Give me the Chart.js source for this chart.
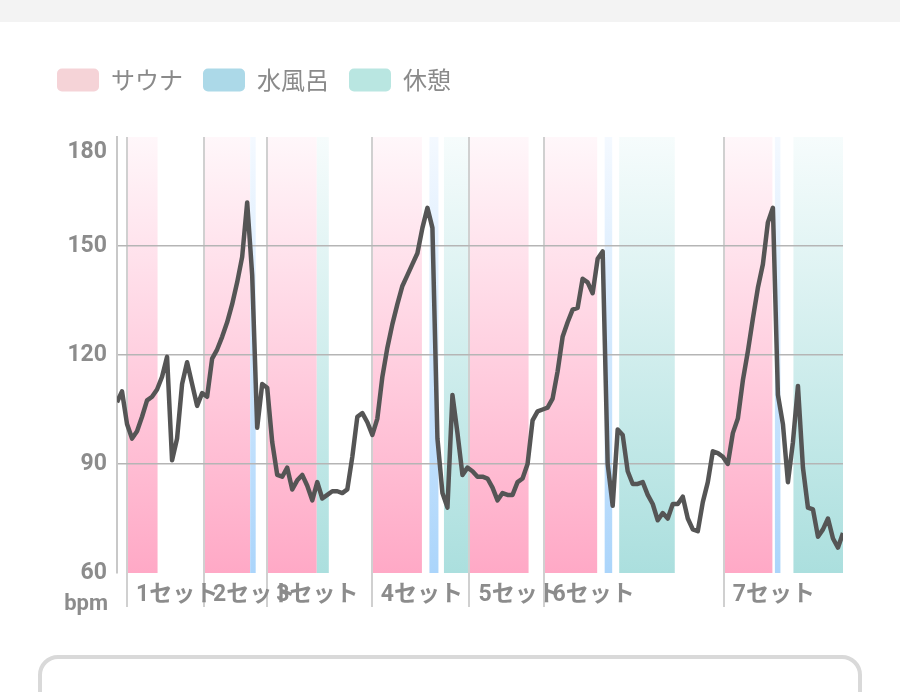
<!DOCTYPE html>
<html lang="ja">
<head>
    <meta charset="UTF-8">
    <title>心拍数</title>
    <script src="https://cdn.jsdelivr.net/npm/chart.js"></script>
    <style>
        body {
            margin: 0;
            background: #fff;
            width: 900px;
            height: 692px;
            overflow: hidden;
            position: relative;
            font-family: Roboto, "Noto Sans CJK JP", sans-serif;
        }

        .topbar {
            position: absolute;
            top: 0;
            left: 0;
            width: 900px;
            height: 22px;
            background: #f3f3f3;
        }

        .chart-box {
            position: absolute;
            top: 22px;
            left: 0;
            width: 900px;
            height: 600px;
        }

        .card {
            position: absolute;
            top: 655px;
            left: 38px;
            width: 816px;
            height: 100px;
            border: 4px solid #d9d9d9;
            border-radius: 20px;
        }
    </style>
</head>
<body>
    <div class="topbar"></div>
    <div class="chart-box"><canvas id="hrChart"></canvas></div>
    <div class="card"></div>

    <script>
        // heart rate, one reading per minute
        const heartRate = [
            107, 110, 101, 97, 99, 103, 107.5, 108.5, 110.5, 114,
            119.5, 91, 97, 112, 118, 112, 106, 109.5, 108.5, 119,
            121.5, 125, 129, 134, 140, 147, 162, 142, 100, 112,
            111, 96, 87, 86.5, 89, 83, 85.5, 87, 84, 80,
            85, 80.5, 81.5, 82.5, 82.5, 82, 83, 92, 103, 104,
            101.5, 98, 102.5, 114, 122, 128.5, 134, 139, 142, 145,
            148, 155, 160.5, 155, 97, 82, 78, 109, 98.5, 87,
            89, 88, 86.5, 86.5, 86, 83.5, 80, 82, 81.5, 81.5,
            85, 86, 90, 102, 104.5, 105, 105.5, 108, 115.5, 125,
            129, 132.5, 133, 141, 140, 137, 146.5, 148.5, 90, 78.5,
            99.5, 98, 88, 84.5, 84.5, 85, 81.5, 79, 74.5, 76.5,
            75, 79, 79, 81, 75, 72, 71.5, 79.5, 85, 93.5,
            93, 92, 90, 98.5, 102.5, 113, 121, 130, 138.5, 145,
            156.5, 160.5, 109, 101, 85, 96, 111.5, 89, 78, 77.5,
            70, 72, 75, 69.5, 67, 71
        ];

        const setLabels = ['1セット', '2セット', '3セット', '4セット', '5セット', '6セット', '7セット'];
        const setStarts = [2, 17.4, 30, 50.9, 70.4, 85.2, 121.2];

        // [start, end] in minutes
        const saunaPeriods = [[2.2, 8.1], [17.5, 26.6], [30.1, 39.9], [51.1, 60.9], [70.4, 82.2], [85.4, 95.9], [121.4, 130.9]];
        const waterPeriods = [[26.6, 27.7], [62.4, 64.2], [97.4, 98.9], [131.4, 132.5]];
        const restPeriods = [[39.9, 42.3], [65.3, 70.1], [100.3, 111.4], [135.1, 145]];

        const legendNames = ['サウナ', '水風呂', '休憩'];
        const legendColors = ['#f5d3d7', '#acd9e8', '#b9e6e1'];
        const yUnit = 'bpm';

        const labelGrey = '#8c8c8c';

        // colored phase bands behind the line
        const phaseBands = {
            id: 'phaseBands',
            beforeDraw(chart) {
                const { ctx, chartArea: a, scales: { x, y } } = chart;
                const groups = [
                    [saunaPeriods, '#fff7fa', '#ffa9c6'],
                    [waterPeriods, '#f4f9ff', '#abd5fb'],
                    [restPeriods, '#f6fcfc', '#abdfde'],
                ];
                ctx.save();
                groups.forEach(([periods, top, bottom]) => {
                    const g = ctx.createLinearGradient(0, a.top, 0, a.bottom);
                    g.addColorStop(0, top);
                    g.addColorStop(1, bottom);
                    ctx.fillStyle = g;
                    periods.forEach(([s, e]) => {
                        const x0 = x.getPixelForValue(s);
                        const x1 = x.getPixelForValue(e);
                        ctx.fillRect(x0, a.top, x1 - x0, a.bottom - a.top);
                    });
                });
                ctx.restore();

                // keep the top y label inside the plot, like the app does
                const items = y.getLabelItems();
                const topItem = items.find(it => it.label === String(y.max));
                if (topItem && !topItem._shifted) {
                    topItem.options.translation[1] += 15;
                    topItem._shifted = true;
                }
            }
        };

        // unit under the y axis labels
        const unitLabel = {
            id: 'unitLabel',
            afterDraw(chart) {
                const { ctx, chartArea: a, scales: { y } } = chart;
                ctx.save();
                ctx.font = 'bold 22px Roboto, sans-serif';
                ctx.fillStyle = labelGrey;
                ctx.textAlign = 'right';
                ctx.textBaseline = 'middle';
                ctx.fillText(yUnit, y.right - 9, a.bottom + 31);
                ctx.restore();
            }
        };

        // extra space between legend and plot
        const legendGap = {
            id: 'legendGap',
            beforeInit(chart) {
                const fit = chart.legend.fit;
                chart.legend.fit = function () {
                    fit.bind(chart.legend)();
                    this.height += 35;
                };
            }
        };

        const ctx = document.getElementById('hrChart').getContext('2d');

        new Chart(ctx, {
            type: 'line',
            data: {
                datasets: [{
                    label: '心拍数',
                    data: heartRate.map((v, i) => ({ x: i, y: v })),
                    borderColor: '#555555',
                    borderWidth: 4.5,
                    pointRadius: 0,
                    tension: 0,
                    borderJoinStyle: 'round',
                    fill: false,
                }]
            },
            options: {
                responsive: true,
                maintainAspectRatio: false,
                animation: false,
                layout: {
                    padding: { top: 26, left: 37, right: 57, bottom: 0 }
                },
                plugins: {
                    tooltip: { enabled: false },
                    legend: {
                        position: 'top',
                        align: 'start',
                        labels: {
                            boxWidth: 42,
                            boxHeight: 23,
                            padding: 20,
                            color: '#8a8a8a',
                            useBorderRadius: true,
                            borderRadius: 5,
                            font: { size: 24, family: '"Noto Sans CJK JP", sans-serif' },
                            generateLabels: () => legendNames.map((name, i) => ({
                                text: name,
                                fillStyle: legendColors[i],
                                strokeStyle: legendColors[i],
                                lineWidth: 0,
                                hidden: false,
                                borderRadius: 5,
                                fontColor: '#8a8a8a',
                            })),
                        },
                        onClick: () => {},
                    },
                },
                scales: {
                    x: {
                        type: 'linear',
                        min: 0,
                        max: heartRate.length - 1,
                        afterBuildTicks: (scale) => {
                            scale.ticks = setStarts.map(v => ({ value: v }));
                        },
                        afterFit: (scale) => { scale.height = 49; },
                        grid: {
                            color: '#d0d0d0',
                            lineWidth: 2,
                            tickLength: 34,
                            tickColor: '#d0d0d0',
                        },
                        border: { display: false },
                        ticks: {
                            autoSkip: false,
                            maxRotation: 0,
                            minRotation: 0,
                            align: 'start',
                            labelOffset: 9,
                            padding: -26,
                            color: labelGrey,
                            font: { size: 23, weight: 'bold', family: 'Roboto, "Noto Sans CJK JP", sans-serif' },
                            callback: (value, index) => setLabels[index],
                        },
                    },
                    y: {
                        min: 60,
                        max: 180,
                        afterFit: (scale) => { scale.width = 80; },
                        grid: {
                            drawTicks: false,
                            lineWidth: 1.5,
                            color: (c) => (c.tick.value === 60 || c.tick.value === 180) ? 'rgba(0,0,0,0)' : '#b5b5b5',
                        },
                        border: { display: true, color: '#c8c8c8', width: 2 },
                        ticks: {
                            stepSize: 30,
                            padding: 10,
                            color: labelGrey,
                            font: { size: 23, weight: 'bold', family: 'Roboto, sans-serif' },
                        },
                    },
                },
            },
            plugins: [legendGap, phaseBands, unitLabel],
        });
    </script>
</body>
</html>
